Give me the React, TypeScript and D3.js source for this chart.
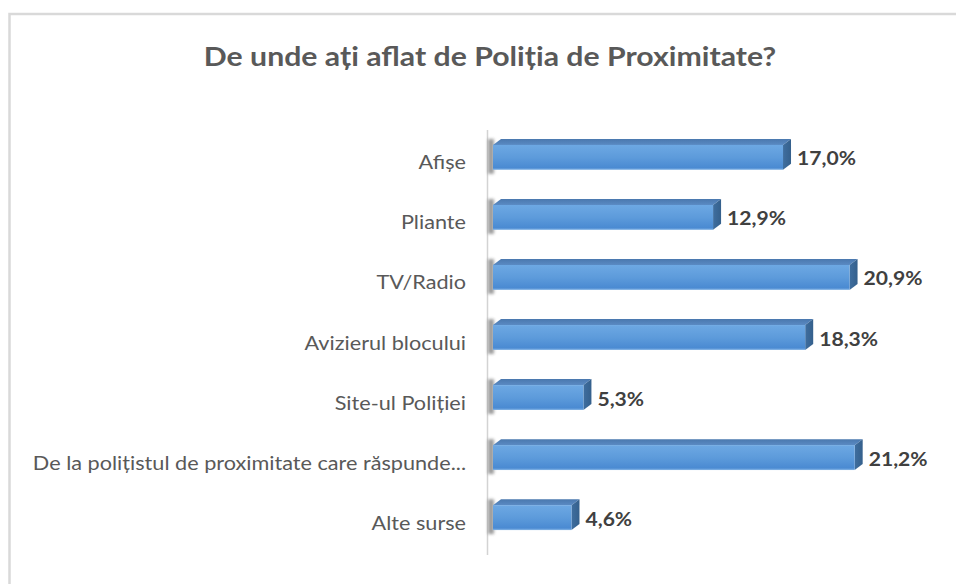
import * as d3 from "d3";

// chart data
const categories = [
  "Afișe",
  "Pliante",
  "TV/Radio",
  "Avizierul blocului",
  "Site-ul Poliției",
  "De la polițistul de proximitate care răspunde...",
  "Alte surse",
];
const values = [17.0, 12.9, 20.9, 18.3, 5.3, 21.2, 4.6];
const title = "De unde ați aflat de Poliția de Proximitate?";

const W = 956, H = 584;
const font = "Lato, 'Liberation Sans', sans-serif";
// the source looks horizontally stretched, so text gets a small x scale
const stretch = 1.14;

export default function App() {
  const x = d3.scaleLinear().domain([0, 22]).range([493, 493 + 22 * 17.06]);
  const y = d3.scaleBand<string>().domain(categories).range([127.5, 547.5]).paddingInner(0.585).paddingOuter(0.29);
  const dx = 8, dy = 6;
  const fmt = (v: number) => d3.format(".1f")(v).replace(".", ",") + "%";
  const bh = y.bandwidth();

  return (
    <svg width={W} height={H} style={{ position: "absolute", left: 0, top: 0, background: "#fff" }}>
      <defs>
        <linearGradient id="front" x1="0" y1="0" x2="0" y2="1">
          <stop offset="0" stopColor="#6da8e3" />
          <stop offset="0.5" stopColor="#5d9bdb" />
          <stop offset="0.92" stopColor="#4a8ad2" />
          <stop offset="1" stopColor="#86b6e6" />
        </linearGradient>
        <linearGradient id="top" x1="0" y1="0" x2="0" y2="1">
          <stop offset="0" stopColor="#4a78ae" />
          <stop offset="1" stopColor="#5a8ac3" />
        </linearGradient>
        <linearGradient id="side" x1="0" y1="0" x2="1" y2="0">
          <stop offset="0" stopColor="#3f6e9f" />
          <stop offset="1" stopColor="#35608c" />
        </linearGradient>
        <filter id="blur" x="-2" y="-1" width="5" height="3">
          <feGaussianBlur stdDeviation="1.8" />
        </filter>
      </defs>

      {/* chart area border */}
      <rect x={9.5} y={14} width={W + 20} height={H + 20} fill="none" stroke="#d9d9d9" strokeWidth={2.5} />

      <text transform={`translate(490,66) scale(1.12,1)`} textAnchor="middle" fontFamily={font} fontWeight="bold" fontSize={27} fill="#595959">
        {title}
      </text>

      {/* axis line */}
      <line x1={487.5} x2={487.5} y1={130} y2={555} stroke="#d3d3d3" strokeWidth={1.5} />

      {categories.map((c, i) => {
        const y0 = y(c)!;
        const x0 = x(0), x1 = x(values[i]);
        return (
          <g key={c}>
            <rect x={x0 - 5} y={y0 - dy} width={6} height={bh + dy + 4} fill="#6b6b6b" opacity={0.65} filter="url(#blur)" />
            <path d={`M${x0},${y0} L${x0 + dx},${y0 - dy} L${x1 + dx},${y0 - dy} L${x1},${y0} Z`} fill="url(#top)" />
            <path d={`M${x1},${y0} L${x1 + dx},${y0 - dy} L${x1 + dx},${y0 + bh - dy} L${x1},${y0 + bh} Z`} fill="url(#side)" />
            <rect x={x0} y={y0} width={x1 - x0} height={bh} fill="url(#front)" />
            <text transform={`translate(466,${y0 + bh / 2 + 12}) scale(${stretch},1)`} textAnchor="end" fontFamily={font} fontSize={19} fill="#595959">
              {c}
            </text>
            <text transform={`translate(${x1 + dx + 6},${y0 + bh / 2 + 8}) scale(${stretch},1)`} fontFamily={font} fontWeight="bold" fontSize={18.5} fill="#404040">
              {fmt(values[i])}
            </text>
          </g>
        );
      })}
    </svg>
  );
}
